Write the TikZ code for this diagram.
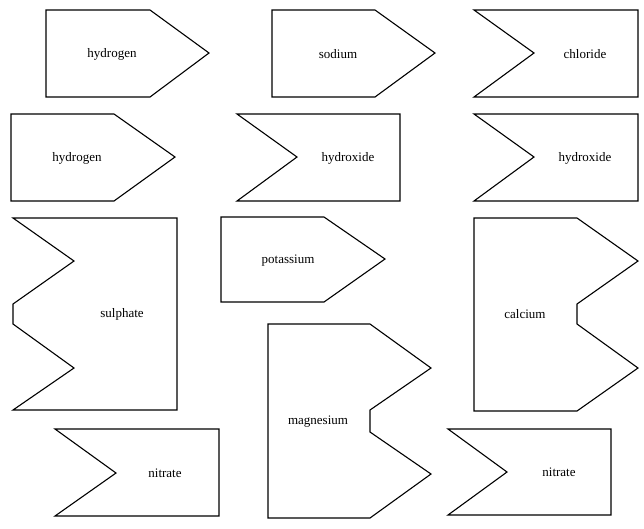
\documentclass[tikz,border=0pt]{standalone}
\usepackage{fontspec}
\setmainfont{Liberation Serif}

\begin{document}
\begin{tikzpicture}[x=1pt, y=-1pt,
    piece/.style={draw=black, line width=1.1pt},
    ion/.style={font=\fontsize{13}{15}\selectfont, inner sep=0pt, yshift=-1.5pt}]
  \useasboundingbox (0,0) rectangle (644,528);

  % first row
  \draw[piece] (46,10) -- (150,10) -- (209,53) -- (150,97) -- (46,97) -- cycle;
  \node[ion] (hydrogenA) at (112,53) {hydrogen};
  \draw[piece] (272,10) -- (375,10) -- (435,53) -- (375,97) -- (272,97) -- cycle;
  \node[ion] (sodium) at (338,53) {sodium};
  \draw[piece] (474,10) -- (638,10) -- (638,97) -- (474,97) -- (534,53) -- cycle;
  \node[ion] (chloride) at (585,53) {chloride};

  % second row
  \draw[piece] (11,114) -- (114,114) -- (175,157) -- (114,201) -- (11,201) -- cycle;
  \node[ion] (hydrogenB) at (77,157) {hydrogen};
  \draw[piece] (237,114) -- (400,114) -- (400,201) -- (237,201) -- (297,157) -- cycle;
  \node[ion] (hydroxideA) at (348,157) {hydroxide};
  \draw[piece] (474,114) -- (638,114) -- (638,201) -- (474,201) -- (534,157) -- cycle;
  \node[ion] (hydroxideB) at (585,157) {hydroxide};

  % two-charge pieces
  \draw[piece] (13,218) -- (177,218) -- (177,410) -- (13,410) -- (74,368)
    -- (13,324) -- (13,304) -- (74,261) -- cycle;
  \node[ion] (sulphate) at (122,313) {sulphate};
  \draw[piece] (221,217) -- (324,217) -- (385,259) -- (324,302) -- (221,302) -- cycle;
  \node[ion] (potassium) at (288,259) {potassium};
  \draw[piece] (474,218) -- (577,218) -- (638,261) -- (577,304) -- (577,324)
    -- (638,368) -- (577,411) -- (474,411) -- cycle;
  \node[ion] (calcium) at (525,313) {calcium};
  \draw[piece] (268,324) -- (370,324) -- (431,368) -- (370,410) -- (370,432)
    -- (431,474) -- (370,518) -- (268,518) -- cycle;
  \node[ion] (magnesium) at (318,420) {magnesium};

  % last row
  \draw[piece] (55,429) -- (219,429) -- (219,516) -- (55,516) -- (116,473) -- cycle;
  \node[ion] (nitrateA) at (165,472) {nitrate};
  \draw[piece] (448,429) -- (611,429) -- (611,515) -- (448,515) -- (507,472) -- cycle;
  \node[ion] (nitrateB) at (559,471) {nitrate};
\end{tikzpicture}
\end{document}
